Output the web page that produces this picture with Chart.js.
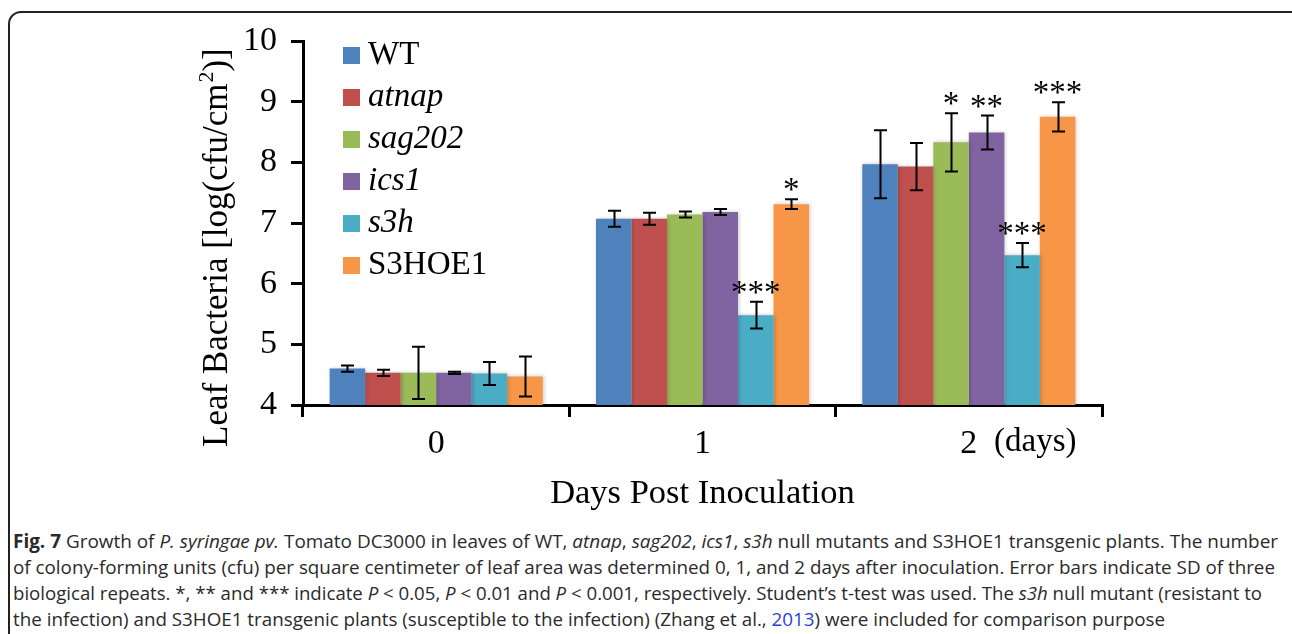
<!DOCTYPE html>
<html><head><meta charset="utf-8">
<script src="https://cdn.jsdelivr.net/npm/chart.js@4"></script>
<style>
html,body{margin:0;padding:0;width:1292px;height:634px;overflow:hidden;background:#fff;}
#frame{position:absolute;left:8px;top:11px;width:1300px;height:700px;border:2px solid #222;border-radius:13px;box-sizing:border-box;}
#c{position:absolute;left:0;top:0;}
.cap{position:absolute;left:13px;white-space:nowrap;font-family:"Open Sans",sans-serif;font-size:19px;line-height:26px;color:#2a2a2a;transform-origin:0 50%;}
.cap a{color:#2a3fd6;text-decoration:none;}
</style></head><body>
<div id="frame"></div>
<canvas id="c" width="1292" height="520"></canvas>
<div class="cap" data-w="1265" style="top:528px"><b>Fig. 7</b> Growth of <i>P. syringae pv.</i> Tomato DC3000 in leaves of WT, <i>atnap</i>, <i>sag202</i>, <i>ics1</i>, <i>s3h</i> null mutants and S3HOE1 transgenic plants. The number</div>
<div class="cap" data-w="1262" style="top:554px">of colony-forming units (cfu) per square centimeter of leaf area was determined 0, 1, and 2 days after inoculation. Error bars indicate SD of three</div>
<div class="cap" data-w="1249" style="top:580px">biological repeats. *, ** and *** indicate <i>P</i> &lt; 0.05, <i>P</i> &lt; 0.01 and <i>P</i> &lt; 0.001, respectively. Student’s t-test was used. The <i>s3h</i> null mutant (resistant to</div>
<div class="cap" data-w="1152" style="top:606px">the infection) and S3HOE1 transgenic plants (susceptible to the infection) (Zhang et al., <a>2013</a>) were included for comparison purpose</div>
<script>
// ---- data ----
const days = ['0', '1', '2'];
const seriesNames = ['WT', 'atnap', 'sag202', 'ics1', 's3h', 'S3HOE1'];
const seriesItalic = [false, true, true, true, true, false];
const seriesColors = ['#4F81BD', '#C0504D', '#9BBB59', '#8064A2', '#4BACC6', '#F79646'];
const WT     = [4.60, 7.07, 7.97];
const atnap  = [4.53, 7.07, 7.93];
const sag202 = [4.53, 7.14, 8.33];
const ics1   = [4.53, 7.18, 8.49];
const s3h    = [4.52, 5.48, 6.47];
const S3HOE1 = [4.47, 7.31, 8.75];
const errWT     = [0.05, 0.13, 0.56];
const errAtnap  = [0.05, 0.10, 0.39];
const errSag202 = [0.43, 0.05, 0.48];
const errIcs1   = [0.02, 0.05, 0.28];
const errS3h    = [0.19, 0.22, 0.20];
const errS3HOE1 = [0.33, 0.08, 0.24];
const sigWT     = ['', '', ''];
const sigAtnap  = ['', '', ''];
const sigSag202 = ['', '', '*'];
const sigIcs1   = ['', '', '**'];
const sigS3h    = ['', '***', '***'];
const sigS3HOE1 = ['', '*', '***'];
const yTicks = [4, 5, 6, 7, 8, 9, 10];
const yTitleMain = 'Leaf Bacteria [log(cfu/cm';
const yTitleSup = '2';
const yTitleEnd = ')]';
const xTitle = 'Days Post Inoculation';
const xUnit = '(days)';

const values = [WT, atnap, sag202, ics1, s3h, S3HOE1];
const errors = [errWT, errAtnap, errSag202, errIcs1, errS3h, errS3HOE1];
const sigs = [sigWT, sigAtnap, sigSag202, sigIcs1, sigS3h, sigS3HOE1];

const SERIF = '"Liberation Serif", "Times New Roman", serif';

const overlay = {
  id: 'overlay',
  beforeDatasetsDraw(chart) {
    const ctx = chart.ctx;
    ctx.save();
    ctx.shadowColor = 'rgba(0,0,0,0.22)';
    ctx.shadowBlur = 4;
    ctx.shadowOffsetX = 1;
    ctx.shadowOffsetY = 0;
  },
  afterDatasetsDraw(chart) {
    const ctx = chart.ctx, y = chart.scales.y;
    ctx.restore();
    ctx.save();
    ctx.strokeStyle = '#000';
    ctx.lineWidth = 2;
    chart.data.datasets.forEach((ds, i) => {
      const meta = chart.getDatasetMeta(i);
      meta.data.forEach((bar, j) => {
        const v = ds.data[j], e = ds.errs[j];
        const yt = y.getPixelForValue(v + e), yb = y.getPixelForValue(v - e);
        const x = Math.round(bar.x) + 0.5;
        ctx.beginPath();
        ctx.moveTo(x, yt); ctx.lineTo(x, yb);
        ctx.moveTo(x - 6.5, yt); ctx.lineTo(x + 6.5, yt);
        ctx.moveTo(x - 6.5, yb); ctx.lineTo(x + 6.5, yb);
        ctx.stroke();
        const s = ds.sig[j];
        if (s) {
          ctx.fillStyle = '#000';
          ctx.font = '33px ' + SERIF;
          ctx.textAlign = 'center';
          ctx.textBaseline = 'alphabetic';
          ctx.fillText(s, bar.x, yt + 1);
        }
      });
    });
    ctx.restore();
  },
  afterDraw(chart) {
    const ctx = chart.ctx, area = chart.chartArea;
    ctx.save();
    ctx.fillStyle = '#000';
    // legend
    chart.data.datasets.forEach((ds, i) => {
      const top = 47 + i * 42;
      ctx.fillStyle = ds.backgroundColor;
      ctx.fillRect(343, top, 17, 17);
      ctx.fillStyle = '#000';
      ctx.font = (seriesItalic[i] ? 'italic ' : '') + '33px ' + SERIF;
      ctx.textAlign = 'left';
      ctx.textBaseline = 'middle';
      ctx.fillText(ds.label, 368, top + 8.5);
    });
    // x unit
    ctx.font = '33px ' + SERIF;
    ctx.textAlign = 'left';
    ctx.textBaseline = 'middle';
    ctx.fillText(xUnit, 994, 442);
    // x title
    ctx.font = '34.5px ' + SERIF;
    ctx.textAlign = 'center';
    ctx.fillText(xTitle, (area.left + area.right) / 2, 494);
    // y title
    ctx.translate(218, 447);
    ctx.rotate(-Math.PI / 2);
    ctx.textAlign = 'left';
    ctx.textBaseline = 'middle';
    ctx.font = '35px ' + SERIF;
    ctx.fillText(yTitleMain, 0, 0);
    let w = ctx.measureText(yTitleMain).width;
    ctx.font = '22px ' + SERIF;
    ctx.fillText(yTitleSup, w + 1, -11);
    w += ctx.measureText(yTitleSup).width + 1;
    ctx.font = '35px ' + SERIF;
    ctx.fillText(yTitleEnd, w, 0);
    ctx.restore();
  }
};

new Chart(document.getElementById('c'), {
  type: 'bar',
  data: {
    labels: days,
    datasets: seriesNames.map((n, i) => ({
      label: n,
      data: values[i],
      errs: errors[i],
      sig: sigs[i],
      backgroundColor: seriesColors[i],
      borderWidth: 0,
      categoryPercentage: 0.8,
      barPercentage: 1.0
    }))
  },
  options: {
    responsive: false,
    animation: false,
    devicePixelRatio: 1,
    layout: { padding: { left: 0, top: 41, right: 190, bottom: 0 } },
    plugins: { legend: { display: false }, tooltip: { enabled: false } },
    scales: {
      x: {
        grid: { display: true, drawOnChartArea: false, drawTicks: true, tickLength: 12, color: '#000', lineWidth: 3, offset: true },
        border: { display: true, color: '#000', width: 3 },
        ticks: { color: '#000', font: { family: SERIF, size: 34 }, padding: 7, maxRotation: 0 },
        afterFit(s) { s.height = 115; }
      },
      y: {
        min: 4, max: 10,
        afterBuildTicks(s) { s.ticks = yTicks.map(v => ({ value: v })); },
        grid: { display: true, drawOnChartArea: false, drawTicks: true, tickLength: 12, color: '#000', lineWidth: 3 },
        border: { display: true, color: '#000', width: 3 },
        ticks: { color: '#000', font: { family: SERIF, size: 34 }, padding: 14 },
        afterFit(s) { s.width = 303; }
      }
    }
  },
  plugins: [overlay]
});

document.querySelectorAll('.cap').forEach(el => {
  const target = +el.dataset.w;
  const w = el.getBoundingClientRect().width;
  el.style.transform = 'scaleX(' + (target / w) + ')';
});
</script>
</body></html>
